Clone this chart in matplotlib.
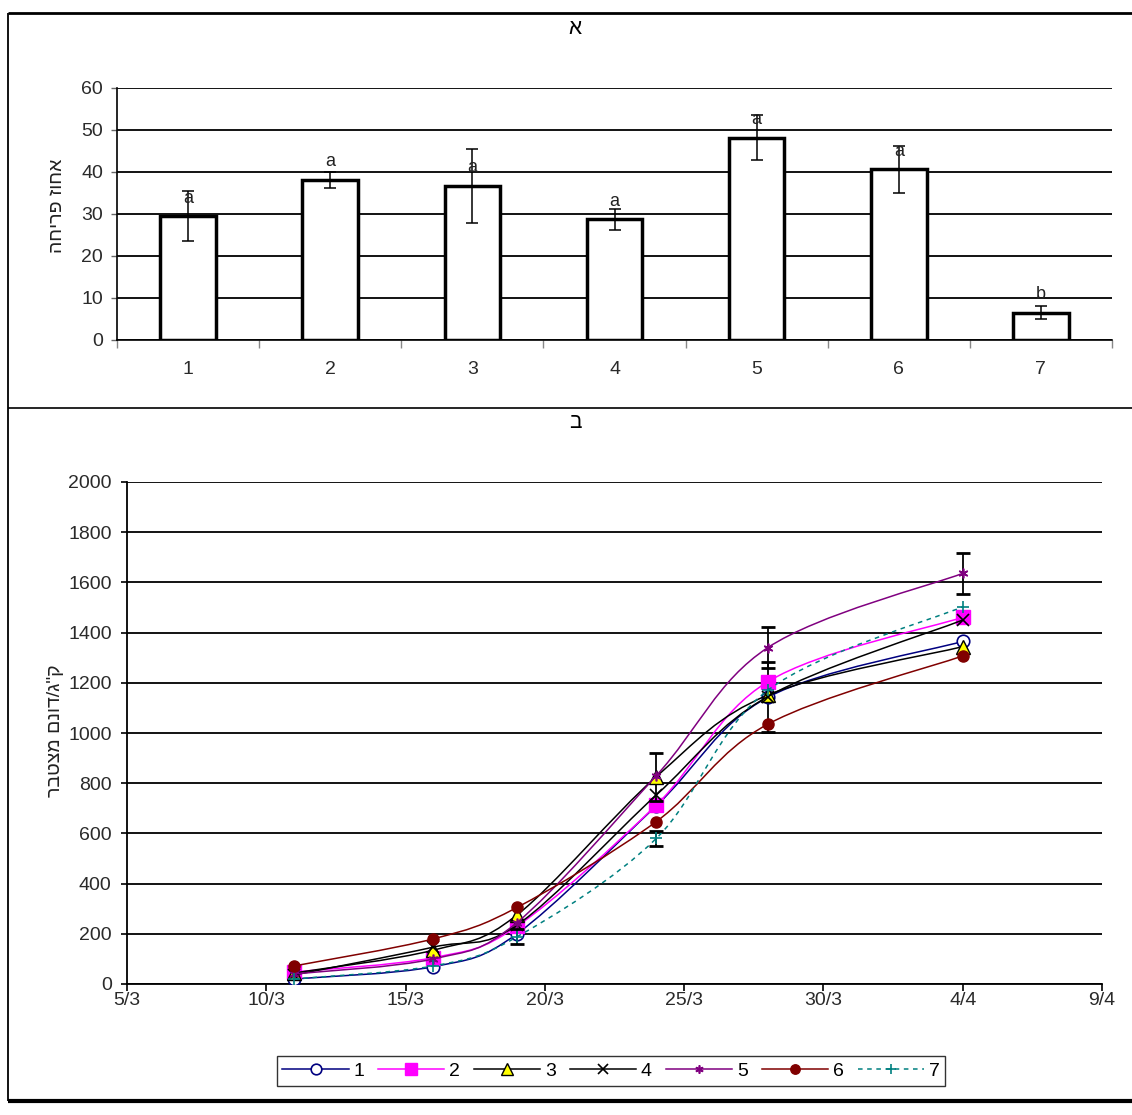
import matplotlib
matplotlib.use("Agg")
import matplotlib.pyplot as plt
import numpy as np
import datetime as dt
import matplotlib.dates as mdates
from matplotlib.path import Path
from matplotlib.patches import PathPatch
from matplotlib.lines import Line2D
from matplotlib.ticker import MultipleLocator

plt.rcParams['font.family'] = ['Liberation Sans', 'DejaVu Sans']

# ---------------- data: panel A ----------------
treatments = ['1', '2', '3', '4', '5', '6', '7']
flower_pct = [29.5, 38.1, 36.7, 28.7, 48.2, 40.6, 6.5]
flower_err = [6.0, 2.0, 8.8, 2.5, 5.4, 5.5, 1.6]
flower_letters = ['a', 'a', 'a', 'a', 'a', 'a', 'b']
title_a = 'א'
ylabel_a = 'אחוז פריחה'

# ---------------- data: panel B ----------------
dates = ['11/3', '16/3', '19/3', '24/3', '28/3', '4/4']
yield_1 = [20, 69, 200, 710, 1142, 1365]
yield_2 = [48, 105, 230, 713, 1204, 1461]
yield_3 = [44, 135, 275, 826, 1151, 1344]
yield_4 = [36, 147, 235, 753, 1145, 1450]
yield_5 = [40, 100, 245, 830, 1340, 1636]
yield_6 = [72, 180, 305, 647, 1035, 1307]
yield_7 = [20, 72, 188, 580, 1170, 1503]
err_1 = [0, 0, 0, 0, 140, 0]
err_3 = [0, 0, 0, 96, 0, 0]
err_5 = [0, 0, 0, 0, 82, 82]
err_7 = [0, 0, 30, 30, 0, 0]
series_labels = ['1', '2', '3', '4', '5', '6', '7']
title_b = 'ב'
ylabel_b = 'ק"ג/דונם מצטבר'
tick_dates = ['5/3', '10/3', '15/3', '20/3', '25/3', '30/3', '4/4', '9/4']

YEAR = 2001


def to_num(s):
    d, m = s.split('/')
    return mdates.date2num(dt.date(YEAR, int(m), int(d)))


def heb(s):
    # matplotlib has no bidi: reverse for visual order
    return s[::-1]


def smooth_path(xs, ys):
    xs = np.asarray(xs, float)
    ys = np.asarray(ys, float)
    n = len(xs)
    verts = [(xs[0], ys[0])]
    codes = [Path.MOVETO]
    for i in range(n - 1):
        p0 = np.array([xs[max(i - 1, 0)], ys[max(i - 1, 0)]])
        p1 = np.array([xs[i], ys[i]])
        p2 = np.array([xs[i + 1], ys[i + 1]])
        p3 = np.array([xs[min(i + 2, n - 1)], ys[min(i + 2, n - 1)]])
        c1 = p1 + (p2 - p0) / 6.0
        c2 = p2 - (p3 - p1) / 6.0
        verts += [tuple(c1), tuple(c2), tuple(p2)]
        codes += [Path.CURVE4] * 3
    return Path(verts, codes)


W, H = 1132, 1115
fig = plt.figure(figsize=(W / 100, H / 100), dpi=100)
fig.patch.set_facecolor('white')


def fx(px):
    return px / W


def fy(py):
    return 1 - py / H


# ---------------- frame lines ----------------
for (x0, y0, x1, y1, lw) in [(8, 13, 1132, 13, 2.0), (8, 13, 8, 1101, 1.3),
                              (8, 408, 1132, 408, 1.2), (8, 1101, 1132, 1101, 3.0)]:
    fig.add_artist(Line2D([fx(x0), fx(x1)], [fy(y0), fy(y1)], transform=fig.transFigure,
                          color='black', lw=lw, solid_capstyle='butt'))

tick_color = '#2a2a2a'
TFS = 14

# ---------------- panel A ----------------
axA = fig.add_axes([fx(117), fy(340), fx(1112) - fx(117), fy(88) - fy(340)])
xpos = np.arange(1, len(treatments) + 1)
axA.set_axisbelow(True)
axA.yaxis.grid(True, color='black', lw=1.3)
axA.bar(xpos, flower_pct, width=0.39, color='white', edgecolor='black', linewidth=2.5, zorder=2)
axA.errorbar(xpos, flower_pct, yerr=flower_err, fmt='none', ecolor='black', elinewidth=1.1,
             capsize=4, capthick=1.1, zorder=3)
for x, v, t in zip(xpos, flower_pct, flower_letters):
    axA.text(x, v + 4.3, t, ha='center', va='center', fontsize=13, color='#222222', zorder=4)
axA.set_xlim(0.5, len(treatments) + 0.5)
axA.set_ylim(0, 60)
axA.yaxis.set_major_locator(MultipleLocator(10))
axA.set_xticks(np.arange(0.5, len(treatments) + 1, 1.0))
axA.set_xticklabels([])
axA.set_xticks(xpos, minor=True)
axA.set_xticklabels(treatments, minor=True)
axA.tick_params(axis='x', which='major', length=6, width=1, color='#888888', direction='out')
axA.tick_params(axis='x', which='minor', length=0, pad=15, labelsize=TFS, labelcolor=tick_color)
axA.tick_params(axis='y', length=4, width=1, color='#666666', direction='out', pad=6,
                labelsize=TFS, labelcolor=tick_color)
for s in ['top', 'right']:
    axA.spines[s].set_visible(False)
axA.spines['left'].set_linewidth(1.2)
axA.spines['bottom'].set_linewidth(1.2)
fig.text(fx(575), fy(28), title_a, ha='center', va='center', fontsize=15)
fig.text(fx(58), fy(206), heb(ylabel_a), ha='center', va='center', rotation=90, fontsize=14,
         color='#222222')

# ---------------- panel B ----------------
axB = fig.add_axes([fx(127), fy(984), fx(1102) - fx(127), fy(482) - fy(984)])
axB.set_axisbelow(True)
axB.yaxis.grid(True, color='black', lw=1.3)
xd = [to_num(d) for d in dates]
tick_x = [to_num(d) for d in tick_dates]
axB.set_xlim(tick_x[0], tick_x[-1])
axB.set_ylim(0, 2000)
axB.yaxis.set_major_locator(MultipleLocator(200))
axB.set_xticks(tick_x)
axB.set_xticklabels(tick_dates)
axB.tick_params(axis='x', length=5, width=1.2, direction='out', pad=1, labelsize=TFS,
                labelcolor=tick_color)
axB.tick_params(axis='y', length=4, width=1.2, direction='out', pad=7, labelsize=TFS,
                labelcolor=tick_color)
for s in ['top', 'right']:
    axB.spines[s].set_visible(False)
axB.spines['left'].set_linewidth(1.3)
axB.spines['bottom'].set_linewidth(1.3)

series = [yield_1, yield_2, yield_3, yield_4, yield_5, yield_6, yield_7]
styles = [
    dict(color='#000080', ls='-', marker='o', mfc='white', mec='#000080', ms=9, mew=1.2),
    dict(color='#FF00FF', ls='-', marker='s', mfc='#FF00FF', mec='#FF00FF', ms=10, mew=1),
    dict(color='black', ls='-', marker='^', mfc='#FFFF00', mec='black', ms=10, mew=1),
    dict(color='black', ls='-', marker='x', mfc='black', mec='black', ms=9, mew=1.2),
    dict(color='#800080', ls='-', marker=(6, 2, 0), mfc='#800080', mec='#800080', ms=7, mew=1.2),
    dict(color='#800000', ls='-', marker='o', mfc='#800000', mec='#800000', ms=8, mew=1),
    dict(color='#008080', ls=(0, (3, 3)), marker='+', mfc='#008080', mec='#008080', ms=8, mew=1.2),
]
errs = {0: err_1, 2: err_3, 4: err_5, 6: err_7}

handles = []
for i, (ys, st) in enumerate(zip(series, styles)):
    p = smooth_path(xd, ys)
    patch = PathPatch(p, facecolor='none', edgecolor=st['color'], lw=1.1, linestyle=st['ls'],
                      transform=axB.transData, zorder=3 + i * 0.1)
    axB.add_patch(patch)
    if i in errs:
        e = np.array(errs[i], float)
        mask = e > 0
        axB.errorbar(np.array(xd)[mask], np.array(ys)[mask], yerr=e[mask], fmt='none',
                     ecolor='black', elinewidth=1.3, capsize=5, capthick=2, zorder=3.05 + i * 0.1)
    axB.plot(xd, ys, ls='none', marker=st['marker'], mfc=st['mfc'], mec=st['mec'],
             ms=st['ms'], mew=st['mew'], zorder=3.08 + i * 0.1)
    handles.append(Line2D([0], [0], color=st['color'], ls=st['ls'], lw=1.1, marker=st['marker'],
                          mfc=st['mfc'], mec=st['mec'], ms=st['ms'] * 0.85, mew=st['mew']))

fig.text(fx(575), fy(423), title_b, ha='center', va='center', fontsize=15)
fig.text(fx(56), fy(731), heb(ylabel_b), ha='center', va='center', rotation=90, fontsize=14,
         color='#222222')

leg = axB.legend(handles, series_labels, ncol=7, loc='center',
                 bbox_to_anchor=(fx(611), fy(1071)), bbox_transform=fig.transFigure,
                 frameon=True, fancybox=False, edgecolor='black', handlelength=3.4,
                 handletextpad=0.25, columnspacing=0.72, fontsize=14, borderpad=0.3,
                 borderaxespad=0)
leg.get_frame().set_linewidth(1.0)

fig.savefig('out.png', dpi=100, facecolor='white')
